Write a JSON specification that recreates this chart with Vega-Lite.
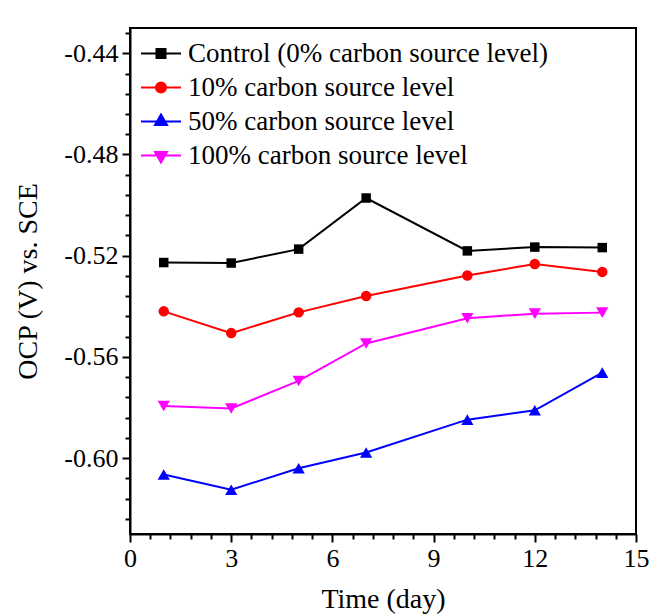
{
  "$schema": "https://vega.github.io/schema/vega-lite/v6.json",
  "width": 506,
  "height": 506,
  "autosize": {"type": "none"},
  "padding": {"left": 130, "top": 28, "right": 18, "bottom": 80},
  "background": "white",
  "config": {
    "view": {"stroke": "black", "strokeWidth": 2},
    "font": "Liberation Serif",
    "axis": {
      "labelFont": "Liberation Serif",
      "titleFont": "Liberation Serif",
      "labelColor": "black",
      "titleColor": "black",
      "domainColor": "black",
      "domainWidth": 2,
      "tickColor": "black",
      "tickWidth": 2,
      "grid": false,
      "labelFontSize": 26,
      "titleFontSize": 28,
      "titleFontWeight": "normal"
    },
    "legend": {"labelFont": "Liberation Serif"}
  },
  "data": {
    "values": [
      {"day": 1, "ocp": -0.5227, "series": "Control (0% carbon source level)"},
      {"day": 3, "ocp": -0.5229, "series": "Control (0% carbon source level)"},
      {"day": 5, "ocp": -0.5174, "series": "Control (0% carbon source level)"},
      {"day": 7, "ocp": -0.4972, "series": "Control (0% carbon source level)"},
      {"day": 10, "ocp": -0.5181, "series": "Control (0% carbon source level)"},
      {"day": 12, "ocp": -0.5166, "series": "Control (0% carbon source level)"},
      {"day": 14, "ocp": -0.5168, "series": "Control (0% carbon source level)"},
      {"day": 1, "ocp": -0.542, "series": "10% carbon source level"},
      {"day": 3, "ocp": -0.5506, "series": "10% carbon source level"},
      {"day": 5, "ocp": -0.5424, "series": "10% carbon source level"},
      {"day": 7, "ocp": -0.5359, "series": "10% carbon source level"},
      {"day": 10, "ocp": -0.5278, "series": "10% carbon source level"},
      {"day": 12, "ocp": -0.5233, "series": "10% carbon source level"},
      {"day": 14, "ocp": -0.5264, "series": "10% carbon source level"},
      {"day": 1, "ocp": -0.6065, "series": "50% carbon source level"},
      {"day": 3, "ocp": -0.6125, "series": "50% carbon source level"},
      {"day": 5, "ocp": -0.604, "series": "50% carbon source level"},
      {"day": 7, "ocp": -0.5978, "series": "50% carbon source level"},
      {"day": 10, "ocp": -0.5848, "series": "50% carbon source level"},
      {"day": 12, "ocp": -0.5811, "series": "50% carbon source level"},
      {"day": 14, "ocp": -0.5662, "series": "50% carbon source level"},
      {"day": 1, "ocp": -0.5794, "series": "100% carbon source level"},
      {"day": 3, "ocp": -0.5804, "series": "100% carbon source level"},
      {"day": 5, "ocp": -0.5695, "series": "100% carbon source level"},
      {"day": 7, "ocp": -0.5547, "series": "100% carbon source level"},
      {"day": 10, "ocp": -0.5447, "series": "100% carbon source level"},
      {"day": 12, "ocp": -0.5429, "series": "100% carbon source level"},
      {"day": 14, "ocp": -0.5425, "series": "100% carbon source level"}
    ]
  },
  "encoding": {
    "x": {
      "field": "day",
      "type": "quantitative",
      "title": "Time (day)",
      "scale": {"domain": [0, 15], "nice": false, "zero": false},
      "axis": {
        "values": [0, 0.6, 1.2, 1.8, 2.4, 3, 3.6, 4.2, 4.8, 5.4, 6, 6.6, 7.2, 7.8, 8.4, 9, 9.6, 10.2, 10.8, 11.4, 12, 12.6, 13.2, 13.8, 14.4, 15],
        "labelExpr": "abs(round(datum.value*10) % 30) == 0 ? format(datum.value, 'd') : ''",
        "tickSize": {"expr": "abs(round(datum.value*10) % 30) == 0 ? 8 : 5"},
        "labelPadding": 3,
        "labelFlush": false,
        "labelOverlap": false,
        "titlePadding": 14
      }
    },
    "y": {
      "field": "ocp",
      "type": "quantitative",
      "title": "OCP (V) vs. SCE",
      "scale": {"domain": [-0.63, -0.43], "nice": false, "zero": false},
      "axis": {
        "values": [-0.624, -0.616, -0.608, -0.6, -0.592, -0.584, -0.576, -0.568, -0.56, -0.552, -0.544, -0.536, -0.528, -0.52, -0.512, -0.504, -0.496, -0.488, -0.48, -0.472, -0.464, -0.456, -0.448, -0.44, -0.432],
        "labelExpr": "abs(round(datum.value*1000) % 40) == 0 ? replace(format(datum.value, '.2f'), '\u2212', '-') : ''",
        "tickSize": {"expr": "abs(round(datum.value*1000) % 40) == 0 ? 8 : 5"},
        "labelPadding": 4,
        "labelFlush": false,
        "labelOverlap": false,
        "titlePadding": 21
      }
    },
    "color": {
      "field": "series",
      "type": "nominal",
      "scale": {
        "domain": ["Control (0% carbon source level)", "10% carbon source level", "50% carbon source level", "100% carbon source level"],
        "range": ["#000000", "#ff0000", "#0000ff", "#ff00ff"]
      },
      "legend": {
        "title": null,
        "orient": "none",
        "legendX": 10,
        "legendY": 4.5,
        "padding": 0,
        "symbolSize": 1600,
        "symbolStrokeWidth": 2,
        "labelFont": "Liberation Serif",
        "labelFontSize": 27,
        "labelColor": "black",
        "labelLimit": 600,
        "labelOffset": 6,
        "rowPadding": -11.5,
        "encode": {
          "symbols": {
            "update": {
              "shape": {"signal": "['M-1 0H1M-0.225 -0.225H0.225V0.225H-0.225Z', 'M-1 0H1M-0.25 0A0.25 0.25 0 1 0 0.25 0A0.25 0.25 0 1 0 -0.25 0Z', 'M-1 0H1M0 -0.346L0.3 0.173L-0.3 0.173Z', 'M-1 0H1M0 0.346L0.3 -0.173L-0.3 -0.173Z'][datum.index]"},
              "size": {"value": 1600},
              "fill": {"signal": "['#000000', '#ff0000', '#0000ff', '#ff00ff'][datum.index]"},
              "stroke": {"signal": "['#000000', '#ff0000', '#0000ff', '#ff00ff'][datum.index]"},
              "strokeWidth": {"value": 2},
              "opacity": {"value": 1},
              "fillOpacity": {"value": 1}
            }
          }
        }
      }
    }
  },
  "layer": [
    {
      "mark": {"type": "line", "strokeWidth": 2}
    },
    {
      "transform": [{"filter": {"field": "series", "equal": "Control (0% carbon source level)"}}],
      "mark": {"type": "point", "filled": true, "opacity": 1, "shape": "square", "size": 90}
    },
    {
      "transform": [{"filter": {"field": "series", "equal": "10% carbon source level"}}],
      "mark": {"type": "point", "filled": true, "opacity": 1, "shape": "circle", "size": 110}
    },
    {
      "transform": [{"filter": {"field": "series", "equal": "50% carbon source level"}}],
      "mark": {"type": "point", "filled": true, "opacity": 1, "shape": "triangle-up", "size": 150}
    },
    {
      "transform": [{"filter": {"field": "series", "equal": "100% carbon source level"}}],
      "mark": {"type": "point", "filled": true, "opacity": 1, "shape": "triangle-down", "size": 150}
    }
  ]
}
